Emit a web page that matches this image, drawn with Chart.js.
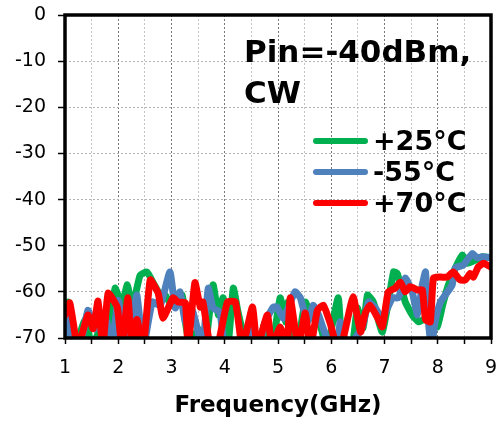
<!DOCTYPE html>
<html>
<head>
<meta charset="utf-8">
<script src="https://cdn.jsdelivr.net/npm/chart.js@4"></script>
<style>
  body { margin: 0; background: #fff; }
  #wrap { position: relative; width: 497px; height: 423px; }
  .note, .legend { position: absolute; font-family: "DejaVu Sans", sans-serif; font-weight: bold; color: #000; }
  .note { left: 244px; top: 31px; font-size: 31px; line-height: 41px; }
  .legend { left: 313px; top: 125px; font-size: 27px; line-height: 31px; }
  .legend .row { display: flex; align-items: center; }
  .legend .swatch { width: 55px; height: 6px; border-radius: 3px; margin-right: 5px; }
</style>
</head>
<body>
<div id="wrap">
  <canvas id="chart" width="497" height="423"></canvas>
  <div class="note">Pin=-40dBm,<br>CW</div>
  <div class="legend" id="legend"></div>
</div>
<script>
// series names + colours (legend order)
const seriesNames = ['+25°C', '-55°C', '+70°C'];
const seriesColors = ['#00B050', '#4F81BD', '#FF0000'];

// +25°C (green)
const freqGreen = [1.00, 1.06, 1.19, 1.38, 1.51, 1.66, 1.75, 1.85, 1.94, 2.07,
  2.17, 2.26, 2.41, 2.54, 2.65, 2.79, 2.88, 3.01, 3.20, 3.26,
  3.35, 3.50, 3.63, 3.78, 3.88, 3.97, 4.06, 4.16, 4.25, 4.42,
  4.63, 4.76, 4.89, 5.04, 5.14, 5.19, 5.36, 5.51, 5.64, 5.76,
  5.92, 6.13, 6.21, 6.39, 6.49, 6.60, 6.68, 6.79, 6.96, 7.17,
  7.24, 7.39, 7.52, 7.64, 7.73, 7.86, 7.99, 8.09, 8.20, 8.33,
  8.46, 8.56, 8.71, 8.84, 8.99];
const valGreen = [-64, -62.2, -72, -66, -72, -68, -72, -68, -59.2, -62.8,
  -58.5, -63.5, -56.4, -55.7, -57.9, -60.7, -60.7, -63, -60.7, -66.5,
  -72, -68, -72, -58.5, -65, -61.3, -72, -59.2, -64.4, -72,
  -72, -66.5, -72, -61.3, -66.5, -62.2, -72, -62.2, -65.7, -66,
  -72, -61.3, -72, -72, -63.5, -67.8, -60.7, -62.2, -68.7, -55.7,
  -56, -62.2, -65, -66.5, -66, -66.5, -67.6, -62.9, -58.5, -54.8,
  -52, -53.8, -53.1, -52.4, -52.6];

// -55°C (blue)
const freqBlue = [1.00, 1.13, 1.28, 1.43, 1.56, 1.66, 1.79, 1.88, 2.00, 2.13,
  2.28, 2.35, 2.47, 2.64, 2.79, 2.97, 3.07, 3.16, 3.26, 3.39,
  3.58, 3.69, 3.78, 3.91, 4.01, 4.38, 4.52, 4.63, 4.76, 4.91,
  4.98, 5.10, 5.32, 5.42, 5.55, 5.66, 5.76, 5.98, 6.11, 6.17,
  6.30, 6.58, 6.70, 6.83, 6.96, 7.15, 7.26, 7.39, 7.52, 7.62,
  7.71, 7.77, 7.82, 7.88, 7.95, 8.05, 8.14, 8.27, 8.33, 8.48,
  8.65, 8.74, 8.84, 8.99];
const valBlue = [-63.5, -72, -72, -64, -68, -66, -66.5, -72, -61.8, -72,
  -65, -60.7, -72, -62.2, -62.9, -55.7, -63.5, -60, -66.5, -64,
  -72, -59.2, -63.5, -64.4, -72, -72, -68, -72, -66.5, -63.3,
  -63.3, -65.7, -60, -61.3, -66.5, -62.9, -65, -72, -72, -66.5,
  -72, -67.8, -62.2, -63.5, -65.7, -61.3, -61.3, -57, -60, -65,
  -58.5, -55.7, -65.7, -72, -66.5, -62.2, -60.7, -58.5, -54.8, -54.2,
  -51.7, -52.6, -52.4, -52.6];

// +70°C (red)
const freqRed = [1.00, 1.09, 1.24, 1.43, 1.53, 1.62, 1.71, 1.81, 1.98, 2.07,
  2.18, 2.26, 2.35, 2.47, 2.60, 2.75, 2.84, 3.03, 3.12, 3.26,
  3.31, 3.44, 3.54, 3.59, 3.73, 3.86, 4.05, 4.20, 4.33, 4.52,
  4.61, 4.80, 4.89, 5.04, 5.17, 5.23, 5.38, 5.51, 5.61, 5.74,
  5.85, 5.98, 6.11, 6.23, 6.41, 6.55, 6.64, 6.73, 6.86, 6.96,
  7.07, 7.20, 7.30, 7.39, 7.48, 7.62, 7.71, 7.77, 7.86, 7.92,
  8.05, 8.18, 8.29, 8.42, 8.52, 8.61, 8.67, 8.76, 8.86, 8.99];
const valRed = [-65, -62.4, -72, -65, -68, -62, -72, -60.3, -63.3, -72,
  -61.3, -72, -66, -72, -57.4, -60.3, -65.7, -61.3, -62.2, -62.4,
  -72, -58, -63.3, -62.2, -72, -72, -62.2, -62.2, -72, -63.3,
  -72, -65, -72, -67.6, -72, -61.3, -72, -64.6, -72, -64,
  -62.9, -66.8, -72, -69.8, -61.1, -68.7, -64.6, -62.9, -65.4, -67.6,
  -60, -59.2, -57.9, -60, -58.9, -59.6, -59.6, -66, -66.5, -57,
  -56.8, -56.8, -55.7, -57.4, -57.4, -56, -56.8, -54.6, -53.8, -54.6];

const xMin = 1, xMax = 9;
const yMin = -70, yMax = 0;

function pairs(xs, ys) {
  return xs.map((x, i) => ({ x: x, y: ys[i] }));
}

// legend (html, sits inside plot area)
const legendEl = document.getElementById('legend');
seriesNames.forEach((name, i) => {
  const row = document.createElement('div');
  row.className = 'row';
  row.innerHTML = '<span class="swatch" style="background:' + seriesColors[i] + '"></span><span>' + name + '</span>';
  legendEl.appendChild(row);
});

// black box round the plot area
const frame = {
  id: 'frame',
  afterDatasetsDraw(chart) {
    const { ctx, chartArea: a } = chart;
    ctx.save();
    ctx.strokeStyle = '#000';
    ctx.lineWidth = 3.5;
    ctx.strokeRect(a.left, a.top, a.right - a.left, a.bottom - a.top);
    ctx.restore();
  }
};

const lineStyle = { borderWidth: 7, pointRadius: 0, tension: 0.15, fill: false,
  borderJoinStyle: 'round', borderCapStyle: 'round', clip: 0 };

new Chart(document.getElementById('chart'), {
  type: 'line',
  data: {
    datasets: [
      Object.assign({ label: seriesNames[0], data: pairs(freqGreen, valGreen), borderColor: seriesColors[0], order: 2 }, lineStyle),
      Object.assign({ label: seriesNames[1], data: pairs(freqBlue, valBlue), borderColor: seriesColors[1], order: 1 }, lineStyle),
      Object.assign({ label: seriesNames[2], data: pairs(freqRed, valRed), borderColor: seriesColors[2], order: 0 }, lineStyle)
    ]
  },
  options: {
    responsive: false,
    animation: false,
    layout: { padding: { left: 0, right: 6, top: 15, bottom: 0 } },
    plugins: { legend: { display: false }, tooltip: { enabled: false } },
    scales: {
      x: {
        type: 'linear', min: xMin, max: xMax,
        afterFit: s => { s.height = 85; s.paddingLeft = 0; s.paddingRight = 0; },
        ticks: {
          stepSize: 0.5, color: '#000', padding: 13, maxRotation: 0, autoSkip: false,
          font: { family: 'DejaVu Sans', size: 19 },
          callback: v => Number.isInteger(v) ? v : ''
        },
        grid: {
          color: c => Number.isInteger(c.tick.value) ? '#777' : '#c4c4c4',
          lineWidth: 1, tickLength: 6, tickColor: '#000', tickWidth: 1.5
        },
        border: { display: false, dash: [2, 2] },
        title: {
          display: true, text: 'Frequency(GHz)', color: '#000',
          font: { family: 'DejaVu Sans', size: 23, weight: 'bold' },
          padding: { top: 0, bottom: 3 }
        }
      },
      y: {
        min: yMin, max: yMax,
        afterFit: s => { s.width = 65; s.paddingTop = 0; s.paddingBottom = 0; },
        ticks: {
          stepSize: 10, color: '#000', padding: 12,
          font: { family: 'DejaVu Sans', size: 19 }
        },
        grid: { color: '#b4b4b4', lineWidth: 1, tickLength: 7, tickColor: '#000', tickWidth: 1.5 },
        border: { display: false, dash: [2, 2] }
      }
    }
  },
  plugins: [frame]
});
</script>
</body>
</html>
